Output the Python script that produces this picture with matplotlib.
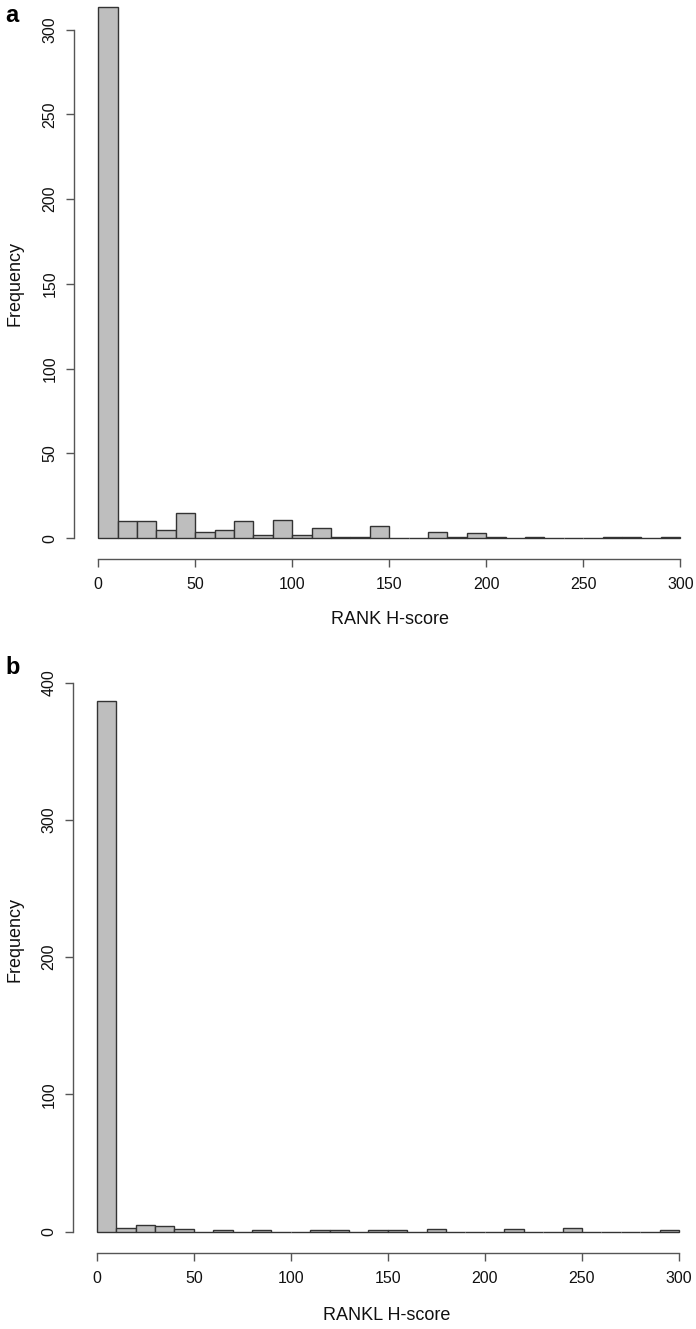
import numpy as np
import matplotlib
matplotlib.use("Agg")
import matplotlib.pyplot as plt

plt.rcParams['font.family'] = ['Liberation Sans', 'DejaVu Sans']

# histogram bins (width 10, 0..300)
bin_edges = np.arange(0, 310, 10)
rank_counts = [313, 10, 10, 5, 15, 4, 5, 10, 2, 11, 2, 6, 1, 1, 7,
               0, 0, 4, 1, 3, 1, 0, 1, 0, 0, 0, 1, 1, 0, 1]
rankl_counts = [387, 3, 5, 4, 2, 0, 1, 0, 1, 0, 0, 1, 1, 0, 1,
                1, 0, 2, 0, 0, 0, 2, 0, 0, 3, 0, 0, 0, 0, 1]
x_ticks = [0, 50, 100, 150, 200, 250, 300]
rank_yticks = [0, 50, 100, 150, 200, 250, 300]
rankl_yticks = [0, 100, 200, 300, 400]

W, H = 696, 1329
fig = plt.figure(figsize=(W / 100, H / 100), dpi=100)

AXC = '#555555'


def panel(counts, yticks, x0, x300, y0, yref, yrefval, left, bottom, right, top):
    # place axes so that data values land on the pixel positions of the reference
    sx = (x300 - x0) / 300.0
    sy = (y0 - yref) / float(yrefval)
    ax = fig.add_axes([left / W, 1 - bottom / H, (right - left) / W, (bottom - top) / H])
    ax.set_xlim((left - x0) / sx, (right - x0) / sx)
    ax.set_ylim((y0 - bottom) / sy, (y0 - top) / sy)
    ax.bar(bin_edges[:-1], counts, width=10, align='edge',
           color='#bebebe', edgecolor='#333333', linewidth=1.0)
    for s in ['top', 'right']:
        ax.spines[s].set_visible(False)
    for s in ['left', 'bottom']:
        ax.spines[s].set_color(AXC)
        ax.spines[s].set_linewidth(1.0)
    ax.spines['bottom'].set_bounds(0, 300)
    ax.spines['left'].set_bounds(yticks[0], yticks[-1])
    ax.set_xticks(x_ticks)
    ax.set_yticks(yticks)
    ax.tick_params(axis='both', length=5.5, width=1.0, color=AXC,
                   labelsize=11.5, labelcolor='#111111')
    ax.tick_params(axis='x', pad=7.5)
    ax.tick_params(axis='y', pad=6.5)
    for lab in ax.get_yticklabels():
        lab.set_rotation(90)
        lab.set_va('center')
    ax.patch.set_visible(False)
    return ax


panel(rank_counts, rank_yticks, 98.3, 680.3, 538.3, 29.5, 300,
      74, 559.3, 696, 0)
panel(rankl_counts, rankl_yticks, 96.7, 679, 1231.7, 682.7, 400,
      73.3, 1253.3, 696, 650)

fig.text(390 / W, 1 - 620 / H, 'RANK H-score', ha='center', va='center', fontsize=13, color='#111111')
fig.text(387 / W, 1 - 1316 / H, 'RANKL H-score', ha='center', va='center', fontsize=13, color='#111111')
fig.text(15 / W, 1 - 283 / H, 'Frequency', ha='center', va='center', rotation=90, fontsize=13, color='#111111')
fig.text(15 / W, 1 - 940 / H, 'Frequency', ha='center', va='center', rotation=90, fontsize=13, color='#111111')

fig.text(12 / W, 1 - 15 / H, 'a', ha='center', va='center', fontsize=17, fontweight='bold')
fig.text(13 / W, 1 - 667 / H, 'b', ha='center', va='center', fontsize=17, fontweight='bold')

fig.savefig('out.png', dpi=100)
